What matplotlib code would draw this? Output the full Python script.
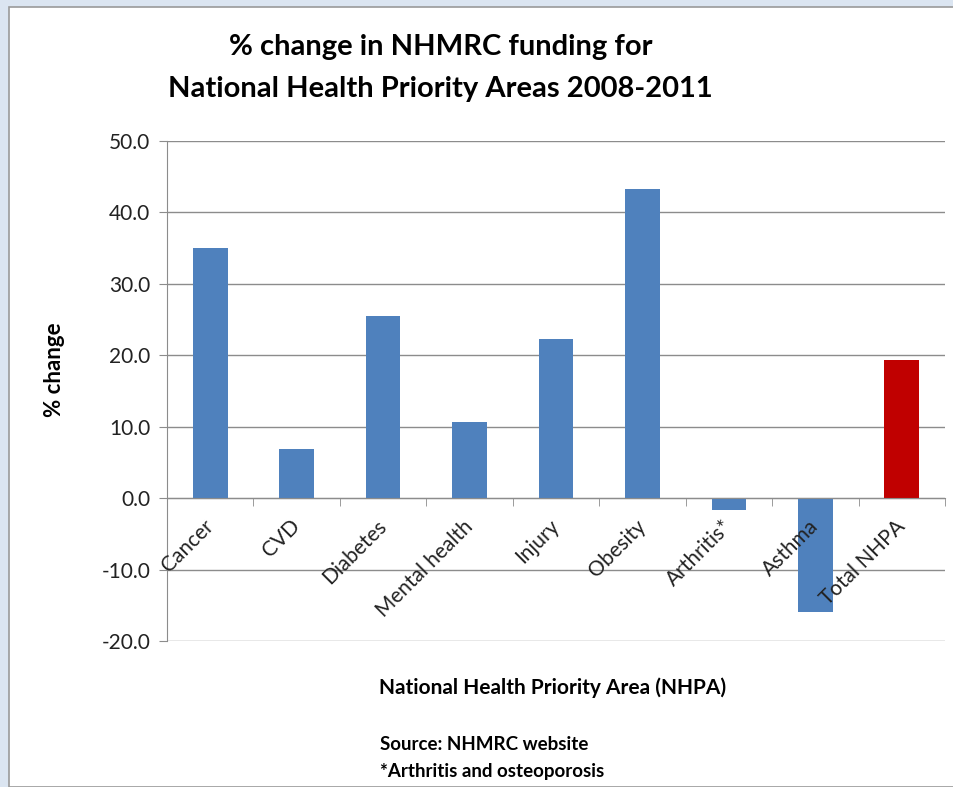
import matplotlib

matplotlib.use("Agg")
import matplotlib.pyplot as plt
import numpy as np
from matplotlib.patches import Rectangle

# data
categories = ["Cancer", "CVD", "Diabetes", "Mental health", "Injury",
              "Obesity", "Arthritis*", "Asthma", "Total NHPA"]
pct_change = [35.0, 6.9, 25.5, 10.6, 22.3, 43.3, -1.7, -15.9, 19.3]
bar_colors = ["#4f81bd"] * 8 + ["#c00000"]
y_ticks = [-20.0, -10.0, 0.0, 10.0, 20.0, 30.0, 40.0, 50.0]

plt.rcParams["font.family"] = ["Lato", "DejaVu Sans"]

W, H = 954, 787
fig = plt.figure(figsize=(W / 100, H / 100), dpi=100)
fig.patch.set_facecolor("#dbe5f1")
fig.patches.append(Rectangle((9 / W, 0), 1 - 9 / W, 1 - 7 / H, transform=fig.transFigure,
                             facecolor="white", edgecolor="#9a9a9a", linewidth=1.2, zorder=-1))

ax = fig.add_axes([167 / W, 1 - 641 / H, (945 - 167) / W, (641 - 141) / H])
ax.set_facecolor("none")
ax.set_zorder(2)

x = np.arange(len(categories))
ax.bar(x, pct_change, width=0.4, color=bar_colors, zorder=3)

grid_c = "#8c8c8c"
ax.set_xlim(-0.5, len(categories) - 0.5)
ax.set_ylim(-20, 50)
ax.set_yticks(y_ticks)
ax.set_yticklabels([f"{v:.1f}" for v in y_ticks], fontsize=15, color="#222222")
ax.yaxis.grid(True, color=grid_c, linewidth=1)
ax.set_axisbelow(True)
# category labels sit on top of the bars, gridlines stay behind
ax.xaxis.set_zorder(5)
ax.tick_params(axis="y", length=6, color=grid_c, pad=6)

for s in ["top", "right"]:
    ax.spines[s].set_visible(False)
ax.spines["left"].set_color(grid_c)
ax.spines["bottom"].set_color(grid_c)
ax.spines["bottom"].set_position(("data", 0))
ax.spines["bottom"].set_zorder(4)

# category boundaries as tick marks, labels at centres
ax.set_xticks(np.arange(len(categories) + 1) - 0.5, minor=True)
ax.tick_params(axis="x", which="minor", length=6, color=grid_c)
ax.set_xticks(x)
ax.set_xticklabels(categories, fontsize=15, color="#222222",
                   rotation=45, rotation_mode="anchor", ha="right", va="center")
ax.tick_params(axis="x", which="major", length=0, pad=18)

fig.text(0.462, 1 - 47 / H, "% change in NHMRC funding for", fontsize=21,
         fontweight="bold", ha="center", va="center")
fig.text(0.462, 1 - 89 / H, "National Health Priority Areas 2008-2011", fontsize=21,
         fontweight="bold", ha="center", va="center")
fig.text(55 / W, 1 - 370 / H, "% change", fontsize=16, fontweight="bold",
         rotation=90, ha="center", va="center")
fig.text(553 / W, 1 - 688 / H, "National Health Priority Area (NHPA)", fontsize=15,
         fontweight="bold", ha="center", va="center")
fig.text(380 / W, 1 - 745 / H, "Source: NHMRC website", fontsize=13.5,
         fontweight="bold", ha="left", va="center")
fig.text(380 / W, 1 - 771 / H, "*Arthritis and osteoporosis", fontsize=13.5,
         fontweight="bold", ha="left", va="center")

fig.savefig("out.png", dpi=100, facecolor=fig.get_facecolor())
